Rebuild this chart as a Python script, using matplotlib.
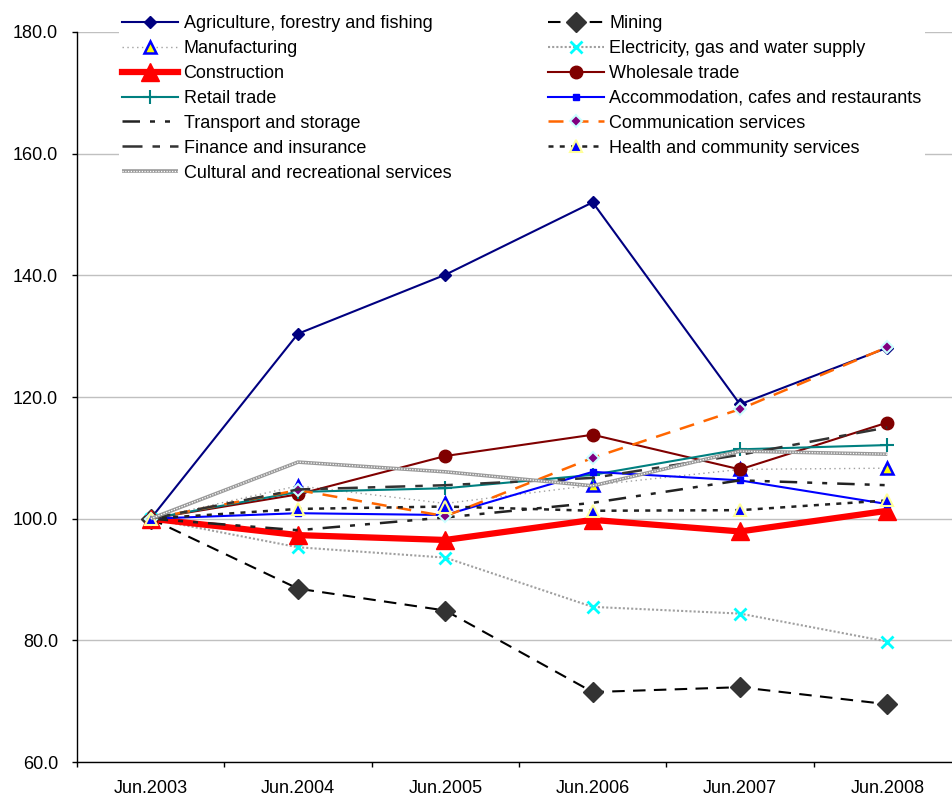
import matplotlib
matplotlib.use("Agg")
import matplotlib.pyplot as plt
from matplotlib.legend_handler import HandlerTuple

plt.rcParams['font.family'] = ['Liberation Sans', 'DejaVu Sans']

periods = ["Jun.2003", "Jun.2004", "Jun.2005", "Jun.2006", "Jun.2007", "Jun.2008"]

agriculture = [100.0, 130.4, 140.1, 152.0, 118.8, 128.1]
mining = [100.0, 88.5, 84.9, 71.5, 72.3, 69.5]
manufacturing = [100.0, 105.4, 102.5, 105.5, 108.1, 108.3]
electricity = [100.0, 95.3, 93.6, 85.5, 84.4, 79.8]
construction = [100.0, 97.3, 96.5, 99.8, 97.9, 101.3]
wholesale = [100.0, 104.0, 110.3, 113.8, 108.1, 115.8]
retail = [100.0, 104.4, 105.0, 107.2, 111.4, 112.1]
accommodation = [100.0, 100.9, 100.6, 107.7, 106.3, 102.4]
transport = [100.0, 98.1, 100.2, 102.6, 106.3, 105.5]
communication = [100.0, 104.7, 100.4, 110.0, 118.0, 128.2]
finance = [100.0, 104.8, 105.5, 106.7, 110.5, 115.0]
health = [100.0, 101.6, 102.0, 101.3, 101.4, 103.0]
cultural = [100.0, 109.3, 107.7, 105.4, 111.1, 110.6]

y_ticks = [60.0, 80.0, 100.0, 120.0, 140.0, 160.0, 180.0]

FS = 13

fig = plt.figure(figsize=(9.53, 7.96), dpi=100)
ax = fig.add_axes([0.0808, 0.0427, 1.0084 - 0.0808, 0.9598 - 0.0427])

x = list(range(len(periods)))
h = {}

h['Agriculture, forestry and fishing'], = ax.plot(
    x, agriculture, color='#000080', lw=1.5, marker='D', ms=6,
    mfc='#000080', mec='#000080')
h['Mining'], = ax.plot(
    x, mining, color='black', lw=1.5, ls=(0, (6, 4)), marker='D', ms=10,
    mfc='#333333', mec='#333333')
h['Manufacturing'], = ax.plot(
    x, manufacturing, color='#a0a0a0', lw=1.0, ls=(0, (1, 2.5)), marker='^', ms=8,
    mfc='#ffff00', mec='#0000ff', mew=1.8)
h['Electricity, gas and water supply'], = ax.plot(
    x, electricity, color='#a0a0a0', lw=1.5, ls=(0, (1, 1)), marker='x', ms=8,
    mec='#00ffff', mew=2)
h['Construction'], = ax.plot(
    x, construction, color='#ff0000', lw=4.5, marker='^', ms=13,
    mfc='#ff0000', mec='#ff0000')
h['Wholesale trade'], = ax.plot(
    x, wholesale, color='#800000', lw=1.5, marker='o', ms=9,
    mfc='#800000', mec='#800000')
h['Retail trade'], = ax.plot(
    x, retail, color='#008080', lw=1.5, marker='+', ms=10, mew=1.5,
    mec='#008080')
h['Accommodation, cafes and restaurants'], = ax.plot(
    x, accommodation, color='#0000ff', lw=1.5, marker='s', ms=4,
    mfc='#0000ff', mec='#0000ff')
h['Transport and storage'], = ax.plot(
    x, transport, color='#222222', lw=1.8, ls=(0, (7, 4, 2, 4, 2, 4)))
h['Communication services'], = ax.plot(
    x, communication, color='#ff6600', lw=1.8, ls=(0, (6, 4)), marker='D', ms=6,
    mfc='#800080', mec='#ccffff', mew=1.5)
h['Finance and insurance'], = ax.plot(
    x, finance, color='#333333', lw=1.8, ls=(0, (8, 4, 3, 4)))
h['Health and community services'], = ax.plot(
    x, health, color='#222222', lw=1.8, ls=(0, (2, 2.5)), marker='^', ms=8,
    mfc='#0000ff', mec='#ffff99', mew=1.5)
cult_base, = ax.plot(x, cultural, color='#9a9a9a', lw=2.6, solid_capstyle='butt')
cult_top, = ax.plot(x, cultural, color='white', lw=0.9, ls=(0, (1, 1.2)))
h['Cultural and recreational services'] = (cult_base, cult_top)

ax.set_xlim(-0.5, len(periods) - 0.5)
ax.set_ylim(60, 180)
ax.set_yticks(y_ticks)
ax.set_yticklabels([f"{v:.1f}" for v in y_ticks])
ax.set_xticks(x)
ax.set_xticklabels(periods)
ax.set_xticks([i + 0.5 for i in range(-1, len(periods))], minor=True)
ax.tick_params(axis='x', which='major', length=0, pad=13, labelsize=FS)
ax.tick_params(axis='x', which='minor', length=3.6, width=1, direction='out')
ax.tick_params(axis='y', length=3.6, width=1, direction='out', labelsize=FS, pad=10)
ax.yaxis.grid(True, color='#c0c0c0', lw=1)
ax.set_axisbelow(True)
for s in ['top', 'right']:
    ax.spines[s].set_visible(False)
for s in ['left', 'bottom']:
    ax.spines[s].set_linewidth(1.0)
    ax.spines[s].set_color('black')

col1 = ['Agriculture, forestry and fishing', 'Manufacturing', 'Construction',
        'Retail trade', 'Transport and storage', 'Finance and insurance',
        'Cultural and recreational services']
col2 = ['Mining', 'Electricity, gas and water supply', 'Wholesale trade',
        'Accommodation, cafes and restaurants', 'Communication services',
        'Health and community services']
order = col1 + col2
leg = fig.legend([h[k] for k in order], order, ncol=2, loc='upper left',
                 bbox_to_anchor=(0.115, 0.997), frameon=True, fontsize=FS,
                 handlelength=3.1, handletextpad=0.3, columnspacing=5.35,
                 labelspacing=0.44, borderpad=0.2,
                 handler_map={tuple: HandlerTuple(ndivide=1, pad=0)})
leg.get_frame().set_edgecolor('none')
leg.get_frame().set_facecolor('white')
leg.get_frame().set_alpha(1)

fig.savefig('out.png', dpi=100)
